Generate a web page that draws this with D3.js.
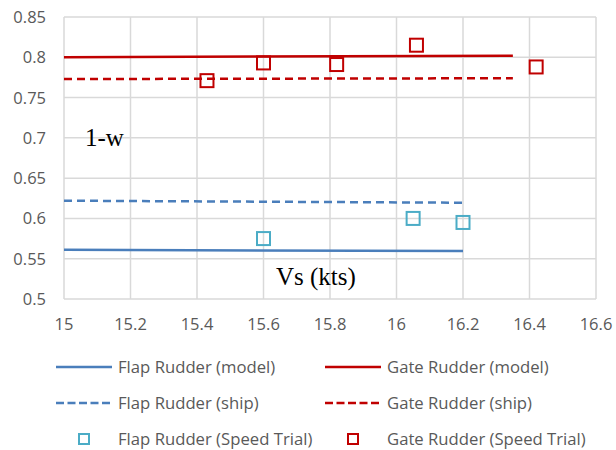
<!DOCTYPE html>
<html>
<head>
<meta charset="utf-8">
<script src="https://cdn.jsdelivr.net/npm/d3@7"></script>
<style>
  body { margin: 0; background: #fff; }
  text { font-family: "Open Sans", sans-serif; fill: #595959; }
</style>
</head>
<body>
<div id="chart"></div>
<script>
// model / ship lines (start and end)
var flapModelX = [15, 16.2], flapModelY = [0.561, 0.5595];
var flapShipX = [15, 16.2], flapShipY = [0.622, 0.6195];
var gateModelX = [15, 16.35], gateModelY = [0.800, 0.802];
var gateShipX = [15, 16.35], gateShipY = [0.773, 0.774];

// speed trial points
var flapTrialX = [15.6, 16.05, 16.2];
var flapTrialY = [0.575, 0.600, 0.595];
var gateTrialX = [15.43, 15.6, 15.82, 16.06, 16.42];
var gateTrialY = [0.771, 0.793, 0.791, 0.815, 0.788];

var xTicks = [15, 15.2, 15.4, 15.6, 15.8, 16, 16.2, 16.4, 16.6];
var yTicks = [0.5, 0.55, 0.6, 0.65, 0.7, 0.75, 0.8, 0.85];

var blue = "#4a7ebb", red = "#c00000", cyan = "#4bacc6";

var width = 616, height = 450;
var svg = d3.select("#chart").append("svg")
    .attr("width", width).attr("height", height);

var x = d3.scaleLinear().domain([15, 16.6]).range([64, 596]);
var y = d3.scaleLinear().domain([0.5, 0.85]).range([299, 17]);

// grid
svg.selectAll(".vgrid").data(xTicks).enter().append("line")
  .attr("x1", function(d){ return x(d); }).attr("x2", function(d){ return x(d); })
  .attr("y1", y(0.85)).attr("y2", y(0.5))
  .attr("stroke", "#d9d9d9").attr("stroke-width", 1.5);
svg.selectAll(".hgrid").data(yTicks).enter().append("line")
  .attr("x1", x(15)).attr("x2", x(16.6))
  .attr("y1", function(d){ return y(d); }).attr("y2", function(d){ return y(d); })
  .attr("stroke", "#d9d9d9").attr("stroke-width", 1.5);

// tick labels
svg.selectAll(".xl").data(xTicks).enter().append("text")
  .attr("x", function(d){ return x(d); }).attr("y", 330)
  .attr("text-anchor", "middle").style("font-size", "16.5px")
  .text(function(d){ return d; });
svg.selectAll(".yl").data(yTicks).enter().append("text")
  .attr("x", 46).attr("y", function(d){ return y(d) + 6; })
  .attr("text-anchor", "end").style("font-size", "16.5px")
  .text(function(d){ return d; });

var line = d3.line().x(function(d){ return x(d[0]); }).y(function(d){ return y(d[1]); });

function drawLine(xs, ys, color, dash) {
  svg.append("path")
    .attr("d", line(d3.zip(xs, ys)))
    .attr("fill", "none").attr("stroke", color).attr("stroke-width", 2.5)
    .attr("stroke-dasharray", dash ? "8,5" : null);
}
drawLine(flapModelX, flapModelY, blue, false);
drawLine(flapShipX, flapShipY, blue, true);
drawLine(gateModelX, gateModelY, red, false);
drawLine(gateShipX, gateShipY, red, true);

function drawSquares(xs, ys, color) {
  svg.selectAll(null).data(d3.zip(xs, ys)).enter().append("rect")
    .attr("x", function(d){ return x(d[0]) - 6.5; })
    .attr("y", function(d){ return y(d[1]) - 6.5; })
    .attr("width", 13).attr("height", 13)
    .attr("fill", "none").attr("stroke", color).attr("stroke-width", 2);
}
drawSquares(flapTrialX, flapTrialY, cyan);
drawSquares(gateTrialX, gateTrialY, red);

// axis titles inside plot
svg.append("text").attr("x", 85).attr("y", 146)
  .style("font-family", "'Liberation Serif', serif").style("font-size", "25px")
  .style("fill", "#000").text("1-w");
svg.append("text").attr("x", 276).attr("y", 285)
  .style("font-family", "'Liberation Serif', serif").style("font-size", "25px")
  .style("fill", "#000").text("Vs (kts)");

// legend
var legend = [
  { name: "Flap Rudder (model)", color: blue, type: "solid", col: 0, row: 0 },
  { name: "Gate Rudder (model)", color: red, type: "solid", col: 1, row: 0 },
  { name: "Flap Rudder (ship)", color: blue, type: "dash", col: 0, row: 1 },
  { name: "Gate Rudder (ship)", color: red, type: "dash", col: 1, row: 1 },
  { name: "Flap Rudder (Speed Trial)", color: cyan, type: "square", col: 0, row: 2 },
  { name: "Gate Rudder (Speed Trial)", color: red, type: "square", col: 1, row: 2 }
];
var colX = [56, 325], rowY = [367, 403, 439];
legend.forEach(function(l) {
  var lx = colX[l.col], ly = rowY[l.row];
  if (l.type === "square") {
    svg.append("rect").attr("x", lx + 23).attr("y", ly - 5)
      .attr("width", 10).attr("height", 10)
      .attr("fill", "none").attr("stroke", l.color).attr("stroke-width", 2);
  } else {
    svg.append("line").attr("x1", lx).attr("x2", lx + 56)
      .attr("y1", ly).attr("y2", ly)
      .attr("stroke", l.color).attr("stroke-width", 2.5)
      .attr("stroke-dasharray", l.type === "dash" ? "8,3.5" : null);
  }
  svg.append("text").attr("x", lx + 62).attr("y", ly + 6)
    .style("font-size", "16.7px").text(l.name);
});
</script>
</body>
</html>
